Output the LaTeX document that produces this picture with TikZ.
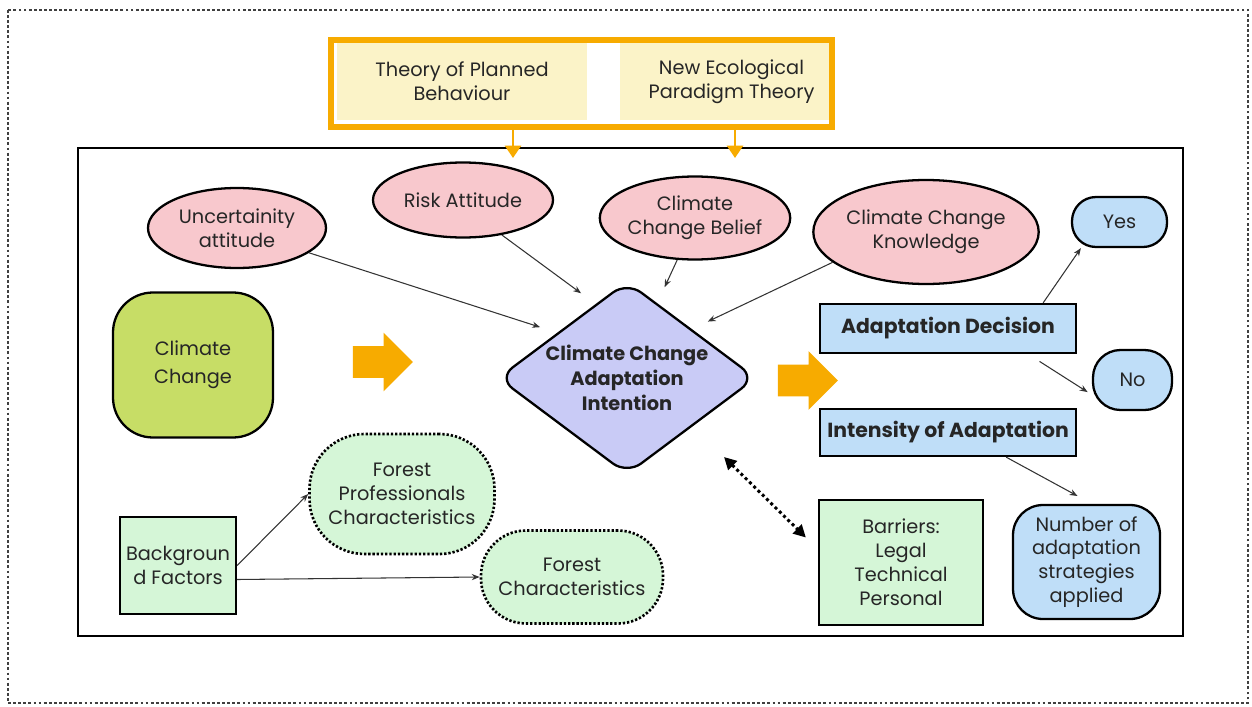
\documentclass[tikz,border=0pt]{standalone}
\usepackage{fontspec}
\setmainfont{Poppins}
\usepackage{tikz}
\usetikzlibrary{shapes, arrows.meta, positioning, calc}
\definecolor{theorange}{RGB}{247, 171, 0}
\definecolor{theoryfill}{RGB}{251, 243, 200}
\definecolor{attpink}{RGB}{248, 200, 205}
\definecolor{ccgreen}{RGB}{199, 221, 102}
\definecolor{intentlav}{RGB}{201, 203, 246}
\definecolor{outblue}{RGB}{191, 222, 248}
\definecolor{factgreen}{RGB}{213, 246, 215}
\definecolor{inkdark}{RGB}{38, 38, 38}

\tikzset{
  theorybox/.style={fill=theoryfill, minimum height=1.54cm, align=center, inner sep=0pt},
  theoryarrow/.style={draw=theorange, line width=1.6pt, -{Triangle[length=7pt, width=9pt]}},
  attitude/.style={ellipse, draw=black, line width=1.3pt, fill=attpink, align=center, inner sep=0pt},
  outcome/.style={rectangle, draw=black, line width=1.3pt, fill=outblue, align=center, inner sep=0pt, font=\bfseries\fontsize{11.6}{14}\selectfont},
  answer/.style={rectangle, draw=black, line width=1.3pt, fill=outblue, align=center, inner sep=0pt},
  factor/.style={rectangle, draw=black, line width=1.3pt, fill=factgreen, align=center, inner sep=0pt},
  trait/.style={rectangle, draw=black, line width=1.5pt, dash pattern=on 1.3pt off 1.1pt, fill=factgreen, align=center, inner sep=0pt},
  blockarrow/.style={single arrow, fill=theorange, minimum height=1.2cm, single arrow head extend=0.27cm, inner xsep=0pt, inner ysep=0.31cm},
  link/.style={draw=black!80, line width=0.6pt, -{Stealth[length=4.5pt, width=3.5pt]}},
  biarrow/.style={draw=black, line width=1.7pt, dash pattern=on 1.7pt off 1.7pt, {Triangle[length=7pt, width=7pt]}-{Triangle[length=7pt, width=7pt]}}
}

\begin{document}
\begin{tikzpicture}[font=\fontsize{11}{13.6}\selectfont, text=inkdark]
  \useasboundingbox (0,0) rectangle (25.04,-14.12);

  % Page frame and model frame
  \draw[draw=black!75, line width=1.1pt, dash pattern=on 1.6pt off 1.3pt] (0.16,-0.2) rectangle (24.96,-14.06);
  \draw[line width=1.1pt] (1.56,-2.96) rectangle (23.66,-12.72);

  % Theories on top
  \node[draw=theorange, line width=3.4pt, minimum width=10.02cm, minimum height=1.74cm] (theory) at (11.63,-1.67) {};
  \node[theorybox, minimum width=5.0cm] (tpb) at (9.24,-1.63) {Theory of Planned\\Behaviour};
  \node[theorybox, minimum width=4.18cm] (nep) at (14.49,-1.63) {\hspace{0.28cm}New Ecological\\\hspace{0.28cm}Paradigm Theory};
  \coordinate (tpbTip) at (10.26,-3.16);
  \coordinate (nepTip) at (14.7,-3.16);
  \draw[theoryarrow] (theory.south -| tpbTip) -- (tpbTip);
  \draw[theoryarrow] (theory.south -| nepTip) -- (nepTip);

  % Attitudes, beliefs and knowledge
  \node[attitude, minimum width=3.56cm, minimum height=1.6cm] (unc) at (4.74,-4.56) {Uncertainity\\attitude};
  \node[attitude, minimum width=3.6cm, minimum height=1.5cm] (risk) at (9.26,-4.0) {Risk Attitude};
  \node[attitude, minimum width=3.78cm, minimum height=1.66cm] (belief) at (13.9,-4.36) {Climate\\Change Belief};
  \node[attitude, minimum width=4.26cm, minimum height=2.08cm] (know) at (18.52,-4.64) {Climate Change\\Knowledge};

  % Driver and intention
  \node[draw=black, line width=1.3pt, fill=ccgreen, rounded corners=0.8cm, minimum width=3.2cm, minimum height=2.9cm, align=center, font=\fontsize{11}{16}\selectfont] (cc) at (3.86,-7.3) {Climate\\Change};
  \node[blockarrow] (push) at (7.5,-7.24) {};
  \node[diamond, draw=black, line width=1.3pt, fill=intentlav, aspect=1.35, rounded corners=10pt, inner sep=0pt, minimum width=5.16cm, minimum height=3.86cm] (intent) at (12.54,-7.56) {};
  \node[font=\bfseries\fontsize{11}{14.2}\selectfont, align=center] (intenttext) at (intent.center) {Climate Change\\Adaptation\\Intention};
  \node[blockarrow] (lead) at (16.0,-7.61) {};

  % Outcomes
  \node[outcome, minimum width=5.12cm, minimum height=0.98cm] (decision) at (18.96,-6.57) {Adaptation Decision};
  \node[outcome, minimum width=5.12cm, minimum height=0.94cm] (intensity) at (18.96,-8.65) {Intensity of Adaptation};
  \node[answer, minimum width=1.9cm, minimum height=1.0cm, rounded corners=0.48cm] (yes) at (22.39,-4.44) {Yes};
  \node[answer, minimum width=1.58cm, minimum height=1.2cm, rounded corners=0.55cm] (no) at (22.65,-7.6) {No};
  \node[answer, minimum width=2.94cm, minimum height=2.28cm, rounded corners=0.6cm] (count) at (21.73,-11.24) {Number of\\adaptation\\strategies\\applied};

  % Background factors and barriers
  \node[factor, minimum width=2.32cm, minimum height=1.94cm] (bg) at (3.56,-11.31) {Backgroun\\d Factors};
  \node[trait, minimum width=3.7cm, minimum height=2.4cm, rounded corners=1.1cm] (fprof) at (8.04,-9.88) {Forest\\Professionals\\Characteristics};
  \node[trait, minimum width=3.64cm, minimum height=1.86cm, rounded corners=0.9cm] (fchar) at (11.44,-11.54) {Forest\\Characteristics};
  \node[factor, minimum width=3.28cm, minimum height=2.5cm] (barriers) at (18.02,-11.25) {Barriers:\\Legal\\Technical\\Personal};

  % Links
  \draw[link, shorten >=0.36cm] (unc.-19) -- (intent.147);
  \draw[link, shorten >=0.36cm] (risk.-42) -- (intent.113);
  \draw[link, shorten >=0.35cm] (belief.247) -- (intent.68);
  \draw[link, shorten >=0.35cm] (know.198) -- (intent.37);
  \draw[link] ([xshift=-0.68cm]decision.north east) -- ([xshift=0.2cm]yes.south west);
  \draw[link, shorten <=0.27cm, shorten >=0.1cm] ([xshift=-0.98cm]decision.south east) -- (no.-160);
  \draw[link, shorten >=0.33cm] ([xshift=-1.42cm]intensity.south east) -- ([xshift=0.11cm]count.north);
  \draw[link] (bg.east) -- (fprof.west);
  \draw[link] ([yshift=-0.28cm]bg.east) -- (fchar.west);
  \draw[biarrow] ([shift={(1.94cm,-1.58cm)}]intent.center) -- ([shift={(-0.24cm,0.5cm)}]barriers.west);
\end{tikzpicture}
\end{document}
